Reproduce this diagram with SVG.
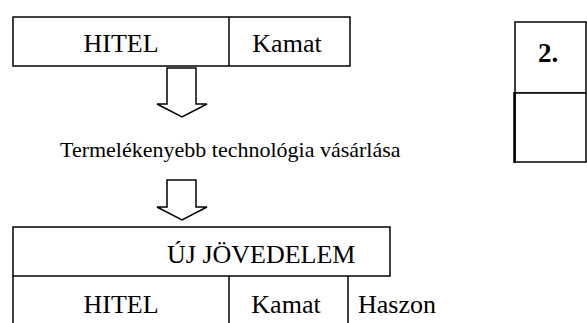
<svg xmlns="http://www.w3.org/2000/svg" width="587" height="323" viewBox="0 0 587 323">
<style>
.box{fill:#fff;stroke:#000;stroke-width:1.5}
.ln{stroke:#000;stroke-width:1.5;fill:none}
.t,.m,.b{font-family:'Liberation Serif',Tinos,'Times New Roman',Times,'DejaVu Serif',serif;fill:#000}
.t{font-size:26px}
.m{font-size:22px}
.b{font-size:27px;font-weight:bold}
.arr{fill:#fff;stroke:#000;stroke-width:1.5;stroke-linejoin:miter}
</style>
<rect width="587" height="323" fill="#fff"/>
<g id="top-box">
<rect class="box" x="13" y="17" width="337" height="49"/>
<line class="ln" x1="229" y1="17" x2="229" y2="66"/>
<text class="t" x="121" y="52" text-anchor="middle">HITEL</text>
<text class="t" x="287" y="52" text-anchor="middle">Kamat</text>
</g>
<g id="label-box">
<rect class="box" x="515" y="22" width="71" height="71"/>
<rect class="box" x="515" y="93" width="71" height="69"/>
<line x1="514.5" y1="92" x2="514.5" y2="163" stroke="#000" stroke-width="2.5"/>
<text class="b" x="548" y="62" text-anchor="middle">2.</text>
</g>
<g id="middle-text">
<text class="m" x="60" y="157">Termelékenyebb technológia vásárlása</text>
</g>
<g id="bottom-box">
<rect class="box" x="13" y="227" width="377" height="49"/>
<line class="ln" x1="13" y1="276" x2="13" y2="330"/>
<line class="ln" x1="229" y1="276" x2="229" y2="323"/>
<line class="ln" x1="348" y1="276" x2="348" y2="323"/>
<text class="t" x="167" y="263">ÚJ JÖVEDELEM</text>
<text class="t" x="121" y="313" text-anchor="middle">HITEL</text>
<text class="t" x="286" y="313" text-anchor="middle">Kamat</text>
<text class="t" x="358" y="313">Haszon</text>
</g>
<g id="connectors">
<path class="arr" d="M167 68 H196 V104 H207 L182 117 L157 104 H167 Z"/>
<path class="arr" d="M167 180 H196 V207 H207 L182 220 L157 207 H167 Z"/>
</g>
</svg>
